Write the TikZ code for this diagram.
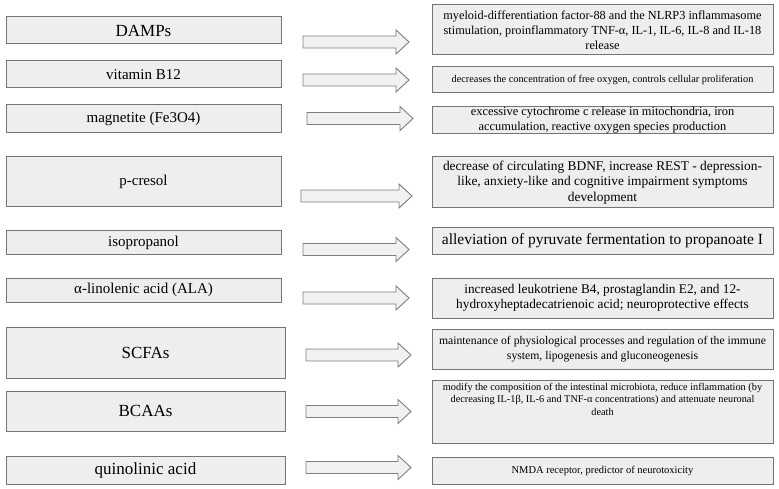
\documentclass[tikz,border=0pt]{standalone}
\usepackage{fontspec}
\setmainfont{Liberation Serif}
\definecolor{boxfill}{HTML}{EEEEEE}
\definecolor{boxline}{HTML}{747474}
\definecolor{arrfill}{HTML}{F1F1F1}
\definecolor{arrline}{HTML}{7E7E7E}
\tikzset{
  box/.style={draw=boxline, fill=boxfill, line width=1pt, inner sep=0pt, align=center, text=black},
  lbox/.style={box, minimum width=275pt},
  lwbox/.style={box, minimum width=279pt},
  rbox/.style={box, minimum width=341pt},
  arrowshape/.style={draw=arrline, fill=arrfill, line width=0.9pt, line join=miter},
  fs/.style 2 args={font=\fontsize{#1}{#2}\selectfont},
}
\newcommand\blockarrow[3]{% x1, x2, y centre
  \draw[arrowshape] (#1,#3-6) -- (#2-13,#3-6) -- (#2-13,#3-12) -- (#2,#3)
    -- (#2-13,#3+12) -- (#2-13,#3+6) -- (#1,#3+6) -- cycle;}
\begin{document}
\begin{tikzpicture}[x=1pt,y=-1pt]
\useasboundingbox (0,0) rectangle (779,489);
% left boxes
\node[lbox, minimum height=27pt, fs={17}{20}] (l1) at (143.5,30.5) {DAMPs};
\node[lbox, minimum height=27pt, fs={15}{18}] (l2) at (143.5,74.5) {vitamin B12};
\node[lbox, minimum height=28pt, fs={15}{18}] (l3) at (143.5,119) {magnetite (Fe3O4)};
\node[lbox, minimum height=50pt, fs={15}{18}] (l4) at (143.5,182) {p-cresol};
\node[lbox, minimum height=23pt, fs={15}{18}] (l5) at (143.5,242.5) {isopropanol};
\node[lbox, minimum height=24pt, fs={15}{18}] (l6) at (143.5,290) {α-linolenic acid (ALA)};
\node[lwbox, minimum height=51pt, fs={17}{20}] (l7) at (145.5,352.5) {SCFAs};
\node[lwbox, minimum height=40pt, fs={17}{20}] (l8) at (145.5,411) {BCAAs};
\node[lwbox, minimum height=28pt, fs={17}{20}] (l9) at (145.5,470) {quinolinic acid};
% arrows
\blockarrow{303}{409}{42}
\blockarrow{303}{409}{80}
\blockarrow{307}{413}{118.5}
\blockarrow{301}{412}{196}
\blockarrow{303}{409}{249.5}
\blockarrow{303}{409}{298}
\blockarrow{306}{411}{355}
\blockarrow{306}{411}{411.5}
\blockarrow{306}{411}{467.5}
% right boxes
\node[rbox, minimum height=50pt, fs={12.3}{15}] (r1) at (602.5,30) {myeloid-differentiation factor-88 and the NLRP3 inflammasome\\stimulation, proinflammatory TNF-α, IL-1, IL-6, IL-8 and IL-18\\release};
\node[rbox, minimum height=26pt, fs={10.3}{12}] (r2) at (602.5,80) {decreases the concentration of free oxygen, controls cellular proliferation};
\node[rbox, minimum height=27pt, fs={12.4}{15}] (r3) at (602.5,120.5) {excessive cytochrome c release in mitochondria, iron\\accumulation, reactive oxygen species production};
\node[rbox, minimum height=51pt, fs={13.4}{15.5}] (r4) at (602.5,182.5) {decrease of circulating BDNF, increase REST - depression-\\like, anxiety-like and cognitive impairment symptoms\\development};
\node[rbox, minimum height=26pt, fs={15.5}{18}] (r5) at (602.5,241) {alleviation of pyruvate fermentation to propanoate I};
\node[rbox, minimum height=40pt, fs={13.3}{15}] (r6) at (602.5,298) {increased leukotriene B4, prostaglandin E2, and 12-\\hydroxyheptadecatrienoic acid; neuroprotective effects};
\node[rbox, minimum height=40pt, fs={11.7}{15}] (r7) at (602.5,349) {maintenance of physiological processes and regulation of the immune\\system, lipogenesis and gluconeogenesis};
\node[rbox, minimum height=63pt] (r8) at (602.5,411.5) {};
\node[fs={10.3}{12.5}, align=center, inner sep=0pt, anchor=north] (r8t) at ([yshift=-3.5pt]r8.north) {modify the composition of the intestinal microbiota, reduce inflammation (by\\decreasing IL-1β, IL-6 and TNF-α concentrations) and attenuate neuronal\\death};
\node[rbox, minimum height=27pt, fs={10.5}{12}] (r9) at (602.5,470.5) {NMDA receptor, predictor of neurotoxicity};
\end{tikzpicture}
\end{document}
